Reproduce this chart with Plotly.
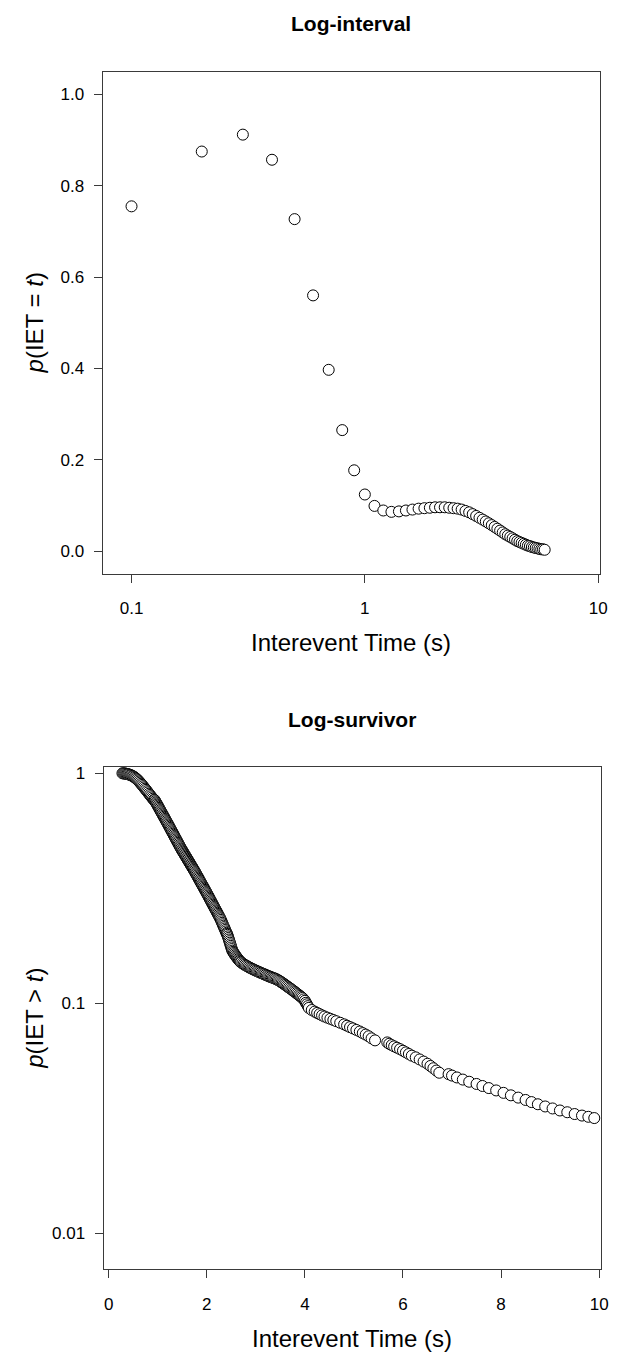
import plotly.graph_objects as go

# ---- Log-interval panel: p(IET = t) on 0.1 s bins ----
interval_t = [0.1, 0.2, 0.3, 0.4, 0.5, 0.6, 0.7, 0.8, 0.9, 1.0,
              1.1, 1.2, 1.3, 1.4, 1.5, 1.6, 1.7, 1.8, 1.9, 2.0,
              2.1, 2.2, 2.3, 2.4, 2.5, 2.6, 2.7, 2.8, 2.9, 3.0,
              3.1, 3.2, 3.3, 3.4, 3.5, 3.6, 3.7, 3.8, 3.9, 4.0,
              4.1, 4.2, 4.3, 4.4, 4.5, 4.6, 4.7, 4.8, 4.9, 5.0,
              5.1, 5.2, 5.3, 5.4, 5.5, 5.6, 5.7, 5.8, 5.9]
interval_p = [0.755, 0.875, 0.912, 0.857, 0.727, 0.560, 0.397, 0.265, 0.177, 0.124,
              0.099, 0.089, 0.086, 0.087, 0.089, 0.091, 0.093, 0.094, 0.095, 0.096,
              0.096, 0.096, 0.095, 0.094, 0.093, 0.091, 0.088, 0.085, 0.081, 0.077,
              0.073, 0.069, 0.065, 0.061, 0.057, 0.053, 0.049, 0.045, 0.041, 0.037,
              0.034, 0.031, 0.028, 0.025, 0.022, 0.020, 0.018, 0.016, 0.014, 0.012,
              0.011, 0.009, 0.008, 0.007, 0.006, 0.005, 0.004, 0.004, 0.003]

# ---- Log-survivor panel: p(IET > t) ----
survivor_t = [
    0.28, 0.30, 0.32, 0.34, 0.36, 0.38, 0.40, 0.42, 0.44, 0.46, 0.48, 0.50,
    0.52, 0.54, 0.56, 0.58, 0.60, 0.62, 0.64, 0.66, 0.68, 0.70, 0.72, 0.74,
    0.76, 0.78, 0.80, 0.82, 0.84, 0.86, 0.88, 0.90, 0.92, 0.9375,
    0.950, 0.9625, 0.975, 0.9875, 1.000, 1.0125, 1.025, 1.0375, 1.050, 1.0625,
    1.075, 1.0875, 1.100, 1.1125, 1.125, 1.1375, 1.150, 1.1625, 1.175, 1.1875,
    1.200, 1.2125, 1.225, 1.2375, 1.250, 1.2625, 1.275, 1.2875, 1.300, 1.3125,
    1.325, 1.3375, 1.350, 1.3625, 1.375, 1.3875, 1.400, 1.4125, 1.425, 1.4375,
    1.450, 1.4625, 1.475, 1.4875, 1.500, 1.5125, 1.525, 1.5375, 1.550, 1.5625,
    1.575, 1.5875, 1.600, 1.6125, 1.625, 1.6375, 1.650, 1.6625, 1.675, 1.6875,
    1.700, 1.7125, 1.725, 1.7375, 1.750, 1.7625, 1.775, 1.7875, 1.800, 1.8125,
    1.825, 1.8375, 1.850, 1.8625, 1.875, 1.8875, 1.900, 1.9125, 1.925, 1.9375,
    1.950, 1.9625, 1.975, 1.9875, 2.000, 2.0125, 2.025, 2.0375, 2.050, 2.0625,
    2.075, 2.0875, 2.100, 2.1125, 2.125, 2.1375, 2.150, 2.1625, 2.175, 2.1875,
    2.200, 2.2125, 2.225, 2.2375, 2.250, 2.2625, 2.275, 2.2875, 2.300, 2.3125,
    2.325, 2.3375, 2.350, 2.3625, 2.375, 2.3875, 2.400,
    2.41, 2.42, 2.43, 2.44, 2.45, 2.46, 2.47, 2.48, 2.49, 2.50, 2.51, 2.52,
    2.535, 2.55, 2.565, 2.58, 2.595, 2.61, 2.625, 2.64, 2.655, 2.67, 2.685, 2.70,
    2.725, 2.75, 2.775, 2.80, 2.825, 2.85, 2.875, 2.90, 2.925, 2.95, 2.975, 3.00,
    3.025, 3.05, 3.075, 3.10, 3.125, 3.15, 3.175, 3.20, 3.225, 3.25, 3.275, 3.30,
    3.325, 3.35, 3.375, 3.40, 3.425, 3.45, 3.475, 3.50, 3.525, 3.55, 3.575, 3.60,
    3.625, 3.65, 3.675, 3.70, 3.725, 3.75, 3.775, 3.80, 3.825, 3.85, 3.875, 3.90,
    3.925, 3.95, 3.975, 4.00, 4.02, 4.04, 4.06, 4.08,
    4.14, 4.20, 4.25, 4.30, 4.35, 4.40, 4.46, 4.52, 4.58,
    4.64, 4.72, 4.80, 4.86, 4.92, 4.98, 5.05, 5.12, 5.18, 5.24, 5.30, 5.36, 5.43,
    5.68, 5.72, 5.77, 5.82, 5.88, 5.94, 6.00, 6.06, 6.12, 6.18, 6.26, 6.34,
    6.42, 6.50, 6.56, 6.62, 6.68, 6.74,
    6.93, 7.00, 7.10, 7.22, 7.35, 7.50, 7.62, 7.75, 7.90, 8.05, 8.20, 8.35,
    8.50, 8.62, 8.75, 8.90, 9.05, 9.20, 9.35, 9.50, 9.65, 9.78, 9.90]
survivor_p = [
    1.000, 0.999, 0.998, 0.997, 0.995, 0.993, 0.990, 0.987, 0.983, 0.979, 0.974, 0.969,
    0.963, 0.956, 0.948, 0.940, 0.931, 0.921, 0.911, 0.900, 0.890, 0.879, 0.868, 0.857,
    0.847, 0.836, 0.826, 0.815, 0.805, 0.795, 0.785, 0.775, 0.766, 0.7646,
    0.7560, 0.7476, 0.7394, 0.7312, 0.7232, 0.7152, 0.7073, 0.6995, 0.6918, 0.6842,
    0.6766, 0.6691, 0.6617, 0.6544, 0.6472, 0.6401, 0.6330, 0.6260, 0.6191, 0.6123,
    0.6055, 0.5986, 0.5918, 0.5851, 0.5784, 0.5718, 0.5653, 0.5589, 0.5525, 0.5462,
    0.5400, 0.5339, 0.5278, 0.5218, 0.5159, 0.5100, 0.5042, 0.4985, 0.4928, 0.4872,
    0.4817, 0.4762, 0.4708, 0.4660, 0.4612, 0.4565, 0.4519, 0.4473, 0.4427, 0.4382,
    0.4337, 0.4293, 0.4249, 0.4206, 0.4163, 0.4121, 0.4079, 0.4037, 0.3996, 0.3955,
    0.3915, 0.3875, 0.3836, 0.3797, 0.3758, 0.3717, 0.3676, 0.3635, 0.3595, 0.3555,
    0.3516, 0.3477, 0.3439, 0.3401, 0.3364, 0.3327, 0.3290, 0.3254, 0.3218, 0.3182,
    0.3147, 0.3112, 0.3078, 0.3044, 0.3011, 0.2977, 0.2942, 0.2908, 0.2875, 0.2842,
    0.2810, 0.2778, 0.2746, 0.2714, 0.2683, 0.2652, 0.2622, 0.2592, 0.2563, 0.2533,
    0.2504, 0.2475, 0.2447, 0.2419, 0.2392, 0.2364, 0.2337, 0.2304, 0.2271, 0.2238,
    0.2206, 0.2175, 0.2144, 0.2113, 0.2083, 0.2053, 0.2024,
    0.2004, 0.1985, 0.1954, 0.1923, 0.1893, 0.1863, 0.1834, 0.1805, 0.1777, 0.1749, 0.1721, 0.1694,
    0.1674, 0.1655, 0.1636, 0.1618, 0.1601, 0.1585, 0.1570, 0.1555, 0.1541, 0.1528, 0.1516, 0.1505,
    0.1492, 0.1480, 0.1469, 0.1458, 0.1448, 0.1438, 0.1429, 0.1420, 0.1411, 0.1403, 0.1395, 0.1387,
    0.1379, 0.1372, 0.1364, 0.1357, 0.1350, 0.1343, 0.1336, 0.1329, 0.1322, 0.1315, 0.1308, 0.1302,
    0.1296, 0.1290, 0.1284, 0.1278, 0.1270, 0.1262, 0.1253, 0.1243, 0.1233, 0.1223, 0.1212, 0.1202,
    0.1191, 0.1181, 0.1170, 0.1160, 0.1149, 0.1139, 0.1128, 0.1118, 0.1107, 0.1097, 0.1086, 0.1076,
    0.1065, 0.1055, 0.1040, 0.1025, 0.1005, 0.0990, 0.0972, 0.0955,
    0.0935, 0.0920, 0.0908, 0.0897, 0.0886, 0.0876, 0.0866, 0.0856, 0.0846,
    0.0836, 0.0823, 0.0810, 0.0799, 0.0788, 0.0778, 0.0766, 0.0754, 0.0742, 0.0731, 0.0719, 0.0704, 0.0690,
    0.0676, 0.0667, 0.0658, 0.0650, 0.0641, 0.0632, 0.0622, 0.0612, 0.0602, 0.0592, 0.0582, 0.0570,
    0.0558, 0.0546, 0.0534, 0.0522, 0.0510, 0.0499,
    0.0492, 0.0485, 0.0476, 0.0466, 0.0456, 0.0446, 0.0437, 0.0428, 0.0418, 0.0408, 0.0398, 0.0389,
    0.0380, 0.0372, 0.0364, 0.0356, 0.0349, 0.0342, 0.0336, 0.0330, 0.0325, 0.0321, 0.0317]

interval_ticks = [0.1, 1, 10]
interval_tick_text = ["0.1", "1", "10"]
p_ticks = [0.0, 0.2, 0.4, 0.6, 0.8, 1.0]
p_tick_text = ["0.0", "0.2", "0.4", "0.6", "0.8", "1.0"]
time_ticks = [0, 2, 4, 6, 8, 10]
surv_ticks = [0.01, 0.1, 1]
surv_tick_text = ["0.01", "0.1", "1"]

FONT = "Liberation Sans, Arial, Helvetica, sans-serif"
W, H = 619, 1356
LINE = "#3a3a3a"

marker = dict(symbol="circle", size=11, color="white",
              line=dict(color="black", width=1))

fig = go.Figure()
fig.add_trace(go.Scatter(x=interval_t, y=interval_p, mode="markers",
                         marker=marker, xaxis="x", yaxis="y",
                         showlegend=False, cliponaxis=False))
fig.add_trace(go.Scatter(x=survivor_t, y=survivor_p, mode="markers",
                         marker=marker, xaxis="x2", yaxis="y2",
                         showlegend=False, cliponaxis=False))

axis_common = dict(showgrid=False, zeroline=False, showline=True, mirror=True,
                   linecolor=LINE, linewidth=1.4, ticks="outside", ticklen=8,
                   tickwidth=1, tickcolor=LINE,
                   tickfont=dict(family=FONT, size=17, color="black"))

def px_x(p):
    return p / W

def px_y(p):
    return 1 - p / H

fig.update_layout(
    width=W, height=H, autosize=False,
    margin=dict(l=0, r=0, t=0, b=0),
    paper_bgcolor="white", plot_bgcolor="white",
    xaxis=dict(axis_common, type="log", range=[-1.123, 1.0085],
               domain=[px_x(104), px_x(607)], anchor="y",
               tickvals=interval_ticks, ticktext=interval_tick_text,
               ticklabelstandoff=11),
    yaxis=dict(axis_common, range=[-0.0495, 1.0495],
               domain=[px_y(572), px_y(69)], anchor="x",
               tickvals=p_ticks, ticktext=p_tick_text,
               ticklabelstandoff=6),
    xaxis2=dict(axis_common, range=[-0.1, 10.04],
                domain=[px_x(105), px_x(608)], anchor="y2",
                tickvals=time_ticks,
                ticklabelstandoff=11),
    yaxis2=dict(axis_common, type="log", range=[-2.156, 0.026],
                domain=[px_y(1269), px_y(766)], anchor="x2",
                tickvals=surv_ticks, ticktext=surv_tick_text,
                ticklabelstandoff=6),
)

def label(text, x, y, size, angle=0, bold=False):
    fig.add_annotation(text=f"<b>{text}</b>" if bold else text,
                       x=x, y=y, xref="paper", yref="paper",
                       xanchor="center", yanchor="middle",
                       textangle=angle, showarrow=False,
                       font=dict(family=FONT, size=size, color="black"))

label("Log-interval", px_x(355.5), px_y(21), 21, bold=True)
label("Log-survivor", px_x(356.5), px_y(718), 21, bold=True)
label("Interevent Time (s)", px_x(355.5), px_y(641), 24)
label("Interevent Time (s)", px_x(356.5), px_y(1338), 24)
label("<i>p</i>(IET = <i>t</i>)", px_x(35), px_y(320.5), 24, angle=-90)
label("<i>p</i>(IET &gt; <i>t</i>)", px_x(35), px_y(1017.5), 24, angle=-90)

fig.write_html("out.html")
